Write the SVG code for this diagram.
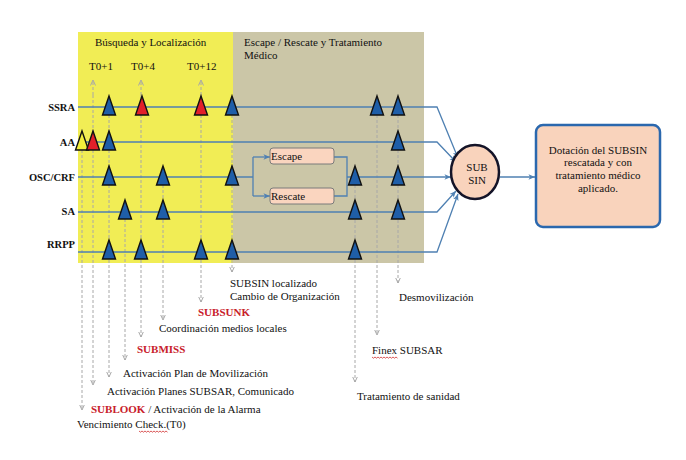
<svg xmlns="http://www.w3.org/2000/svg" xmlns:xlink="http://www.w3.org/1999/xlink" width="686" height="460" viewBox="0 0 686 460">
<style>
text{font-family:"Liberation Serif","Times New Roman",serif;font-size:11px;fill:#111}
.lbl{font-weight:bold;font-size:10.5px;text-anchor:end}
.red{fill:#c8202a;font-weight:bold}
.row{fill:none;stroke:#4f80b2;stroke-width:1.3}
.dash{fill:none;stroke:#a8a8a8;stroke-width:1;stroke-dasharray:3 2}
.tri{stroke:#111;stroke-width:1.4;stroke-linejoin:miter}
.b{fill:#1f5ea8}.r{fill:#e2202a}.y{fill:#f2ee3c}
.sq{fill:none;stroke:#d23030;stroke-width:0.8}
</style>
<defs>
<path id="tri" d="M0,-11 L6.5,8 L-6.5,8 Z"/>
<marker id="dv" viewBox="0 0 6 6" refX="5.5" refY="3" markerWidth="6" markerHeight="6" markerUnits="userSpaceOnUse" orient="auto">
<path d="M0,0.5 L5.5,3 L0,5.5" fill="none" stroke="#a8a8a8" stroke-width="1"/>
</marker>
<marker id="ba" viewBox="0 0 8 8" refX="7.5" refY="4" markerWidth="7" markerHeight="7" markerUnits="userSpaceOnUse" orient="auto">
<path d="M0,0.8 L7.5,4 L0,7.2 L2,4 Z" fill="#4f80b2"/>
</marker>
</defs>
<rect width="686" height="460" fill="#fff"/>
<g id="phase-busqueda">
<rect x="78" y="32" width="155" height="231" fill="#f1ed55"/>
<text x="95" y="46">Búsqueda y Localización</text>
<text x="89" y="70">T0+1</text>
<text x="131" y="70">T0+4</text>
<text x="187" y="70">T0+12</text>
</g>
<g id="phase-escape">
<rect x="233" y="32" width="191" height="231" fill="#cbc6a7"/>
<text x="244" y="46">Escape / Rescate y Tratamiento</text>
<text x="244" y="59">Médico</text>
</g>
<g id="connectors">
<g id="dashed">
<path class="dash" d="M82,150 V410" marker-end="url(#dv)"/>
<path class="dash" d="M93,95 V385" marker-end="url(#dv)"/>
<path class="dash" d="M93,95 V80" marker-end="url(#dv)"/>
<path class="dash" d="M109,115 V377" marker-end="url(#dv)"/>
<path class="dash" d="M125,219 V360" marker-end="url(#dv)"/>
<path class="dash" d="M141,95 V337" marker-end="url(#dv)"/>
<path class="dash" d="M141,95 V80" marker-end="url(#dv)"/>
<path class="dash" d="M163,185 V320" marker-end="url(#dv)"/>
<path class="dash" d="M201,95 V302" marker-end="url(#dv)"/>
<path class="dash" d="M201,95 V80" marker-end="url(#dv)"/>
<path class="dash" d="M232,115 V272" marker-end="url(#dv)"/>
<path class="dash" d="M355,185 V382" marker-end="url(#dv)"/>
<path class="dash" d="M377,115 V335" marker-end="url(#dv)"/>
<path class="dash" d="M398,115 V283" marker-end="url(#dv)"/>
</g>
<path class="row" d="M78,107 H437 L458,158" marker-end="url(#ba)"/>
<path class="row" d="M78,142 H437 L456,162" marker-end="url(#ba)"/>
<path class="row" d="M78,177 H253"/>
<path class="row" d="M253,157 V196"/>
<path class="row" d="M253,157 H270" marker-end="url(#ba)"/>
<path class="row" d="M253,196 H270" marker-end="url(#ba)"/>
<path class="row" d="M334,157 H347 V196 H334"/>
<path class="row" d="M347,177 H451" marker-end="url(#ba)"/>
<path class="row" d="M78,212 H437 L456,191" marker-end="url(#ba)"/>
<path class="row" d="M78,252 H437 L458,194" marker-end="url(#ba)"/>
<path class="row" d="M500,177 H535" marker-end="url(#ba)"/>
</g>
<g id="row-labels">
<text class="lbl" x="75" y="111">SSRA</text>
<text class="lbl" x="75" y="146">AA</text>
<text class="lbl" x="75" y="181">OSC/CRF</text>
<text class="lbl" x="75" y="215">SA</text>
<text class="lbl" x="75" y="248">RRPP</text>
</g>
<g id="triangles">
<g id="t-ssra">
<use href="#tri" class="tri b" x="109" y="107"/>
<use href="#tri" class="tri r" x="142" y="107"/>
<use href="#tri" class="tri r" x="201" y="107"/>
<use href="#tri" class="tri b" x="232" y="107"/>
<use href="#tri" class="tri b" x="377" y="107"/>
<use href="#tri" class="tri b" x="398" y="107"/>
</g>
<g id="t-aa">
<use href="#tri" class="tri y" x="82" y="142"/>
<use href="#tri" class="tri r" x="93" y="142"/>
<use href="#tri" class="tri b" x="109" y="142"/>
<use href="#tri" class="tri b" x="398" y="142"/>
</g>
<g id="t-osc">
<use href="#tri" class="tri b" x="109" y="177"/>
<use href="#tri" class="tri b" x="163" y="177"/>
<use href="#tri" class="tri b" x="232" y="177"/>
<use href="#tri" class="tri b" x="355" y="177"/>
<use href="#tri" class="tri b" x="398" y="177"/>
</g>
<g id="t-sa">
<use href="#tri" class="tri b" x="125" y="211"/>
<use href="#tri" class="tri b" x="163" y="211"/>
<use href="#tri" class="tri b" x="355" y="211"/>
<use href="#tri" class="tri b" x="398" y="211"/>
</g>
<g id="t-rrpp">
<use href="#tri" class="tri b" x="109" y="251"/>
<use href="#tri" class="tri b" x="141" y="251"/>
<use href="#tri" class="tri b" x="201" y="251"/>
<use href="#tri" class="tri b" x="232" y="251"/>
<use href="#tri" class="tri b" x="355" y="251"/>
</g>
</g>
<g id="escape">
<rect x="270" y="148" width="64" height="16" rx="3" fill="#fad5bf" stroke="#7b7b7b" stroke-width="1"/>
<text x="271" y="160">Escape</text>
</g>
<g id="rescate">
<rect x="270" y="188" width="64" height="16" rx="3" fill="#fad5bf" stroke="#7b7b7b" stroke-width="1"/>
<text x="271" y="200">Rescate</text>
</g>
<g id="subsin">
<ellipse cx="475" cy="172" rx="24" ry="27" fill="#f9d3bc" stroke="#141428" stroke-width="2.5"/>
<text x="477" y="171" text-anchor="middle">SUB</text>
<text x="477" y="184" text-anchor="middle">SIN</text>
</g>
<g id="resultado">
<rect x="536" y="125" width="124" height="102" rx="7" fill="#f9d3bc" stroke="#2b68ae" stroke-width="2.5"/>
<text x="598" y="154" text-anchor="middle">Dotación del SUBSIN</text>
<text x="598" y="166" text-anchor="middle">rescatada y con</text>
<text x="598" y="179" text-anchor="middle">tratamiento médico</text>
<text x="598" y="192" text-anchor="middle">aplicado.</text>
</g>
<g id="events">
<text x="230" y="287">SUBSIN localizado</text>
<text x="230" y="300">Cambio de Organización</text>
<text x="399" y="301">Desmovilización</text>
<text class="red" x="198" y="316">SUBSUNK</text>
<text x="159" y="332">Coordinación medios locales</text>
<text x="372" y="354">Finex SUBSAR</text>
<text class="red" x="137" y="353">SUBMISS</text>
<text x="123" y="377">Activación Plan de Movilización</text>
<text x="107" y="395">Activación Planes SUBSAR, Comunicado</text>
<text x="357" y="400">Tratamiento de sanidad</text>
<text x="91" y="413"><tspan class="red">SUBLOOK</tspan> / Activación de la Alarma</text>
<text x="77" y="428">Vencimiento Check.(T0)</text>
<path class="sq" d="M139,431 l1.5,1.2 l1.5,-1.2 l1.5,1.2 l1.5,-1.2 l1.5,1.2 l1.5,-1.2 l1.5,1.2 l1.5,-1.2 l1.5,1.2 l1.5,-1.2 l1.5,1.2 l1.5,-1.2 l1.5,1.2 l1.5,-1.2 l1.5,1.2 l1.5,-1.2 l1.5,1.2 l1.5,-1.2 l1.5,1.2"/>
<path class="sq" d="M372,357 l1.5,1.2 l1.5,-1.2 l1.5,1.2 l1.5,-1.2 l1.5,1.2 l1.5,-1.2 l1.5,1.2 l1.5,-1.2 l1.5,1.2 l1.5,-1.2 l1.5,1.2 l1.5,-1.2 l1.5,1.2 l1.5,-1.2 l1.5,1.2 l1.5,-1.2 l1.5,1.2"/>
</g>
</svg>
